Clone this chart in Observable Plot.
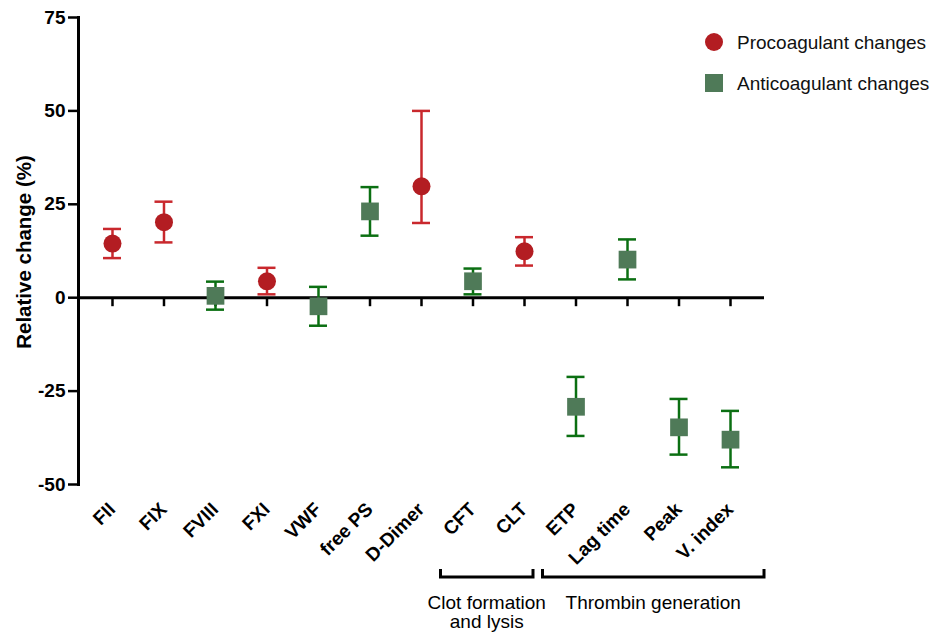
<!DOCTYPE html>
<html>
<head>
<meta charset="utf-8">
<script src="https://cdn.jsdelivr.net/npm/d3@7"></script>
<script src="https://cdn.jsdelivr.net/npm/@observablehq/plot@0.6"></script>
<style>
  html, body { margin: 0; padding: 0; background: #fff; }
  #chart svg { font-family: "Liberation Sans", Arial, Helvetica, sans-serif; }
</style>
</head>
<body>
<div id="chart"></div>
<script>
// ---- data ----
const categories = ["FII", "FIX", "FVIII", "FXI", "VWF", "free PS", "D-Dimer", "CFT", "CLT", "ETP", "Lag time", "Peak", "V. index"];
const means = [14.5, 20.2, 0.5, 4.4, -2.3, 23.1, 29.8, 4.4, 12.4, -29.2, 10.2, -34.7, -38.0];
const lower = [10.6, 14.8, -3.2, 0.9, -7.5, 16.6, 20.0, 0.9, 8.6, -37.0, 4.9, -42.0, -45.4];
const upper = [18.4, 25.7, 4.3, 8.0, 2.9, 29.6, 50.0, 7.8, 16.2, -21.2, 15.6, -27.1, -30.3];
const changeType = ["pro", "pro", "anti", "pro", "anti", "anti", "pro", "anti", "pro", "anti", "anti", "anti", "anti"];
const yTicks = [-50, -25, 0, 25, 50, 75];
const legendLabels = ["Procoagulant changes", "Anticoagulant changes"];
const groups = [
  {label: ["Clot formation", "and lysis"], from: "CFT", to: "CLT"},
  {label: ["Thrombin generation"], from: "ETP", to: "V. index"}
];
const yLabel = "Relative change (%)";

// ---- styles ----
const markFill = {pro: "#b31d22", anti: "#4f7a58"};
const barStroke = {pro: "#c9282d", anti: "#0b6f12"};
const FONT = '"Liberation Sans", Arial, Helvetica, sans-serif';

const data = categories.map((c, i) => ({
  name: c, mean: means[i], lo: lower[i], hi: upper[i], type: changeType[i]
}));
const pro = data.filter(d => d.type === "pro");
const anti = data.filter(d => d.type === "anti");

const W = 933, H = 634;
const plot = Plot.plot({
  width: W,
  height: H,
  marginTop: 17,
  marginLeft: 78,
  marginRight: 169,
  marginBottom: 150,
  style: {fontFamily: FONT, color: "#000", background: "#fff", overflow: "visible"},
  x: {type: "point", domain: categories, padding: 0.66, round: false, axis: null},
  y: {domain: [-50, 75], axis: null},
  marks: [
    Plot.frame({anchor: "left", strokeWidth: 3, stroke: "#000"}),
    Plot.axisY({ticks: yTicks, tickFormat: d => String(d), tickSize: 10, tickPadding: 3, strokeWidth: 2.5, fontSize: 19, fontWeight: "bold", label: null, fill: "#000"}),
    Plot.ruleY([0], {strokeWidth: 3, stroke: "#000"}),
    Plot.ruleX(categories, {x: d => d, y1: 0, y2: 0, insetBottom: -9, strokeWidth: 2.5, stroke: "#000"}),
    Plot.text(categories, {x: d => d, text: d => d, frameAnchor: "bottom", rotate: -45, textAnchor: "end", dy: 26, dx: 4, fontSize: 19, fontWeight: "bold", fill: "#000"}),
    // error bars
    Plot.ruleX(data, {x: "name", y1: "lo", y2: "hi", stroke: d => barStroke[d.type], strokeWidth: 2.5}),
    Plot.ruleY(data, {x1: "name", x2: "name", y: "hi", stroke: d => barStroke[d.type], strokeWidth: 2.5, insetLeft: -9, insetRight: -9}),
    Plot.ruleY(data, {x1: "name", x2: "name", y: "lo", stroke: d => barStroke[d.type], strokeWidth: 2.5, insetLeft: -9, insetRight: -9}),
    // markers
    Plot.dot(pro, {x: "name", y: "mean", r: 9, symbol: "circle", fill: markFill.pro, stroke: "none"}),
    Plot.dot(anti, {x: "name", y: "mean", r: 10, symbol: "square", fill: markFill.anti, stroke: "none"})
  ]
});

const svg = d3.select(plot);
const xs = plot.scale("x");
const X = v => xs.apply(v);

// group brackets
const bracketY = 577, bracketTop = 569;
const bracketPad = [[-32, 9], [-33, 34]];
groups.forEach((g, gi) => {
  const x1 = X(g.from) + bracketPad[gi][0];
  const x2 = X(g.to) + bracketPad[gi][1];
  svg.append("path")
    .attr("d", `M${x1},${bracketTop}V${bracketY}H${x2}V${bracketTop}`)
    .attr("fill", "none").attr("stroke", "#000").attr("stroke-width", 3);
  const cx = (x1 + x2) / 2;
  const t = svg.append("text")
    .attr("x", cx).attr("y", 609)
    .attr("text-anchor", "middle")
    .attr("font-family", FONT).attr("font-size", 19).attr("fill", "#000");
  g.label.forEach((line, li) => {
    t.append("tspan").attr("x", cx).attr("dy", li === 0 ? 0 : 19).text(line);
  });
});

// y label
svg.append("text")
  .attr("transform", "translate(23,252) rotate(-90)")
  .attr("text-anchor", "middle").attr("dominant-baseline", "central")
  .attr("font-family", FONT).attr("font-size", 20.5).attr("font-weight", "bold").attr("fill", "#000")
  .text(yLabel);

// legend
const leg = svg.append("g");
leg.append("circle").attr("cx", 714).attr("cy", 42).attr("r", 9).attr("fill", markFill.pro);
leg.append("rect").attr("x", 705).attr("y", 74).attr("width", 18).attr("height", 18).attr("fill", markFill.anti);
legendLabels.forEach((lab, i) => {
  leg.append("text").attr("x", 737).attr("y", i === 0 ? 42 : 83)
    .attr("text-anchor", "start")
    .attr("dominant-baseline", "central")
    .attr("font-family", FONT).attr("font-size", 19).attr("fill", "#111")
    .text(lab);
});

document.getElementById("chart").appendChild(plot);
</script>
</body>
</html>
